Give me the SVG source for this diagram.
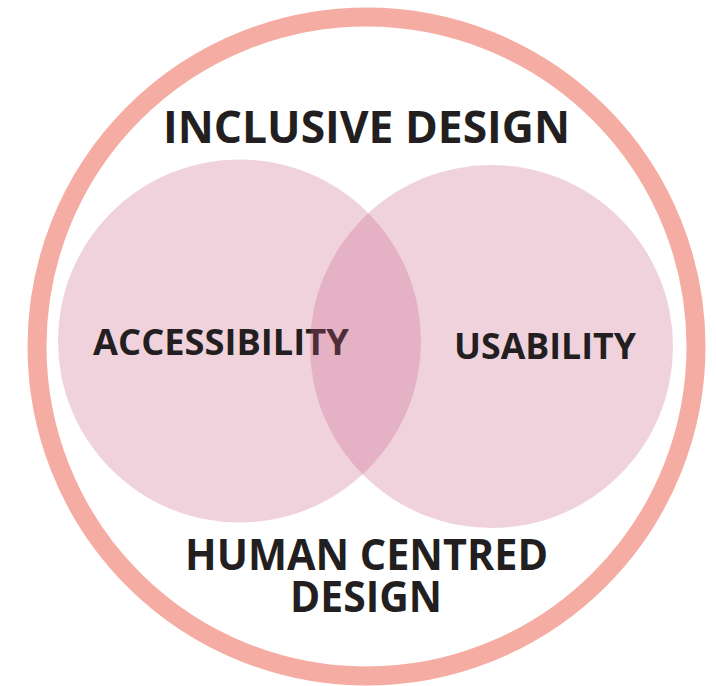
<svg xmlns="http://www.w3.org/2000/svg" width="716" height="686" viewBox="0 0 716 686">
  <style>
    .ring { fill: none; stroke: #F5ADA3; stroke-width: 19; }
    .set { fill: rgb(199,90,131); fill-opacity: 0.27; }
    .label { font-family: "Open Sans", "Liberation Sans", sans-serif; font-weight: 700; fill: #231F20; text-anchor: middle; }
  </style>
  <rect width="716" height="686" fill="#FFFFFF"/>

  <g id="inclusive-design">
    <circle class="ring" cx="366.5" cy="346.5" r="329.5"/>
    <text class="label" x="366.5" y="143" font-size="45" textLength="407" lengthAdjust="spacingAndGlyphs">INCLUSIVE DESIGN</text>
  </g>

  <g id="accessibility">
    <circle class="set" cx="239.5" cy="341" r="181.5"/>
    <text class="label" x="221" y="355" font-size="36.5" textLength="256" lengthAdjust="spacingAndGlyphs">ACCESSIBILITY</text>
  </g>

  <g id="usability">
    <circle class="set" cx="491.5" cy="346.5" r="181.5"/>
    <text class="label" x="545" y="359" font-size="36" textLength="182" lengthAdjust="spacingAndGlyphs">USABILITY</text>
  </g>

  <g id="human-centred-design">
    <text class="label" x="366.5" y="570" font-size="43" textLength="363" lengthAdjust="spacingAndGlyphs">HUMAN CENTRED</text>
    <text class="label" x="366" y="612" font-size="43" textLength="152" lengthAdjust="spacingAndGlyphs">DESIGN</text>
  </g>

  <g id="connectors"/>
</svg>
